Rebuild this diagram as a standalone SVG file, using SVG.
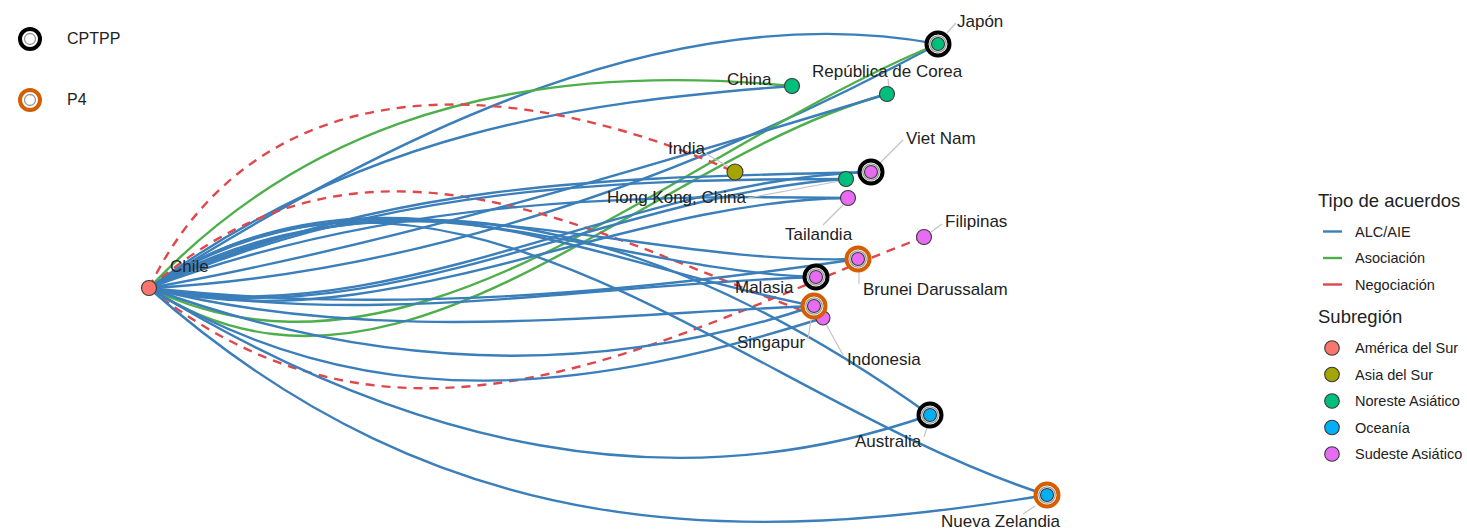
<svg xmlns="http://www.w3.org/2000/svg" width="1467" height="531" viewBox="0 0 1467 531">
<style>
text{font-family:"Liberation Sans",Arial,sans-serif;fill:#222}
.lbl{font-size:17px}
.leg{font-size:14.5px}
.ttl{font-size:18.5px}
.e{fill:none;stroke-width:2.4;stroke-linecap:round}
.alc{stroke:#3A7EBA}
.aso{stroke:#4DAF4A}
.neg{stroke:#E0474A;stroke-dasharray:9 7;stroke-linecap:butt}
.ld{stroke:#C4C4C4;stroke-width:1.2}
.nd{stroke:#3a3a3a;stroke-width:1.1}
.sa{fill:#F8766D}.as{fill:#A3A500}.ne{fill:#00BF7D}.oc{fill:#00B0F6}.se{fill:#E76BF3}
.rc{fill:#fff;stroke:#000;stroke-width:4}
.rp{fill:#fff;stroke:#D55E00;stroke-width:4}
.gr{fill:#fff;stroke:#9a9a9a;stroke-width:1.3}
</style>
<rect width="1467" height="531" fill="#fff"/>
<g id="edges">
<path class="e alc" d="M149,288 C400,130 675,-5 938,44"/>
<path class="e alc" d="M149,288 C412,274 675,185 938,44"/>
<path class="e aso" d="M149,288 C412,415 675,151 938,44"/>
<path class="e aso" d="M149,288 C395,448 641,162 887,94"/>
<path class="e alc" d="M149,288 C395,244 641,169 887,94"/>
<path class="e aso" d="M149,288 C280,150 470,55 792,86"/>
<path class="e alc" d="M149,288 C363,132 577,102 792,86"/>
<path class="e neg" d="M149,288 C250,80 480,60 735,172"/>
<path class="e neg" d="M149,288 C407,493 666,336 924,237"/>
<path class="e neg" d="M149,288 C374,94 598,239 823,318"/>
<path class="e alc" d="M149,288 C409,153 670,230 930,415"/>
<path class="e alc" d="M149,288 C409,447 670,506 930,415"/>
<path class="e alc" d="M149,288 C448,88 748,400 1047,495"/>
<path class="e alc" d="M149,288 C448,552 748,544 1047,495"/>
<path class="e alc" d="M149,288 C385,152 622,267 858,259"/>
<path class="e alc" d="M149,288 C385,314 622,294 858,259"/>
<path class="e alc" d="M149,288 C371,145 594,270 816,277"/>
<path class="e alc" d="M149,288 C371,329 594,284 816,277"/>
<path class="e alc" d="M149,288 C371,141 594,264 814,306"/>
<path class="e alc" d="M149,288 C371,345 594,315 814,306"/>
<path class="e alc" d="M149,288 C371,369 594,380 814,306"/>
<path class="e alc" d="M149,288 C374,424 598,389 823,318"/>
<path class="e alc" d="M149,288 C390,177 630,178 871,172"/>
<path class="e alc" d="M149,288 C390,335 630,178 871,172"/>
<path class="e alc" d="M149,288 C381,187 614,179 846,179"/>
<path class="e alc" d="M149,288 C381,337 614,194 846,179"/>
<path class="e alc" d="M149,288 C382,201 615,194 848,198"/>
<path class="e alc" d="M149,288 C382,344 615,201 848,198"/>
</g>
<g id="leaders">
<line class="ld" x1="947" y1="33" x2="956" y2="23"/>
<line class="ld" x1="888" y1="79" x2="889" y2="87"/>
<line class="ld" x1="703" y1="152" x2="729" y2="167"/>
<line class="ld" x1="880" y1="163" x2="903" y2="140"/>
<line class="ld" x1="748" y1="198" x2="840" y2="181"/>
<line class="ld" x1="823" y1="225" x2="843" y2="205"/>
<line class="ld" x1="931" y1="232" x2="942" y2="224"/>
<line class="ld" x1="859" y1="271" x2="859" y2="284"/>
<line class="ld" x1="812" y1="314" x2="808" y2="339"/>
<line class="ld" x1="826" y1="324" x2="843" y2="355"/>
<line class="ld" x1="927" y1="428" x2="924" y2="437"/>
<line class="ld" x1="1035" y1="506" x2="1023" y2="514"/>
</g>
<g id="node-indonesia"><circle class="nd se" cx="823" cy="318" r="7"/><text class="lbl" x="847" y="365">Indonesia</text></g>
<g id="node-chile"><circle class="nd sa" cx="149" cy="288" r="7.5"/><text class="lbl" x="170" y="272">Chile</text></g>
<g id="node-japon"><circle class="rc" cx="938" cy="44" r="11.5"/><circle class="gr" cx="938" cy="44" r="8.2"/><circle class="nd ne" cx="938" cy="44" r="6.5"/><text class="lbl" x="957" y="27">Japón</text></g>
<g id="node-china"><circle class="nd ne" cx="792" cy="86" r="7.5"/><text class="lbl" x="727" y="85">China</text></g>
<g id="node-corea"><circle class="nd ne" cx="887" cy="94" r="7.5"/><text class="lbl" x="812" y="77">República de Corea</text></g>
<g id="node-india"><circle class="nd as" cx="735" cy="172" r="8"/><text class="lbl" x="668" y="154">India</text></g>
<g id="node-hongkong"><circle class="nd ne" cx="846" cy="179" r="7.5"/><text class="lbl" x="607" y="203">Hong Kong, China</text></g>
<g id="node-vietnam"><circle class="rc" cx="871" cy="172" r="11.5"/><circle class="gr" cx="871" cy="172" r="8.2"/><circle class="nd se" cx="871" cy="172" r="6.5"/><text class="lbl" x="906" y="144">Viet Nam</text></g>
<g id="node-tailandia"><circle class="nd se" cx="848" cy="198" r="7.5"/><text class="lbl" x="785" y="240">Tailandia</text></g>
<g id="node-filipinas"><circle class="nd se" cx="924" cy="237" r="7.5"/><text class="lbl" x="945" y="227">Filipinas</text></g>
<g id="node-brunei"><circle class="rp" cx="858" cy="259" r="11.5"/><circle class="gr" cx="858" cy="259" r="8.2"/><circle class="nd se" cx="858" cy="259" r="6.5"/><text class="lbl" x="863" y="295">Brunei Darussalam</text></g>
<g id="node-malasia"><circle class="rc" cx="816" cy="277" r="11.5"/><circle class="gr" cx="816" cy="277" r="8.2"/><circle class="nd se" cx="816" cy="277" r="6.5"/><text class="lbl" x="735" y="293">Malasia</text></g>
<g id="node-singapur"><circle class="rp" cx="814" cy="306" r="11.5"/><circle class="gr" cx="814" cy="306" r="8.2"/><circle class="nd se" cx="814" cy="306" r="6.5"/><text class="lbl" x="737" y="348">Singapur</text></g>
<g id="node-australia"><circle class="rc" cx="930" cy="415" r="11.5"/><circle class="gr" cx="930" cy="415" r="8.2"/><circle class="nd oc" cx="930" cy="415" r="6.5"/><text class="lbl" x="855" y="447">Australia</text></g>
<g id="node-nuevazelandia"><circle class="rp" cx="1047" cy="495" r="11.5"/><circle class="gr" cx="1047" cy="495" r="8.2"/><circle class="nd oc" cx="1047" cy="495" r="6.5"/><text class="lbl" x="941" y="527">Nueva Zelandia</text></g>
<g id="legend-rings">
<circle class="rc" cx="30" cy="39" r="10"/><circle class="gr" cx="30" cy="39" r="5.5"/>
<text x="67" y="44" style="font-size:16px">CPTPP</text>
<circle class="rp" cx="30" cy="100" r="10"/><circle class="gr" cx="30" cy="100" r="5.5"/>
<text x="67" y="105" style="font-size:16px">P4</text>
</g>
<g id="legend-tipo">
<text class="ttl" x="1318" y="207">Tipo de acuerdos</text>
<line x1="1323" y1="231.5" x2="1342" y2="231.5" stroke="#3A7EBA" stroke-width="2.4"/>
<text class="leg" x="1355" y="236.5">ALC/AIE</text>
<line x1="1323" y1="258" x2="1342" y2="258" stroke="#4DAF4A" stroke-width="2.4"/>
<text class="leg" x="1355" y="263">Asociación</text>
<line x1="1323" y1="284.5" x2="1342" y2="284.5" stroke="#E0474A" stroke-width="2.4"/>
<text class="leg" x="1355" y="289.5">Negociación</text>
</g>
<g id="legend-subregion">
<text class="ttl" x="1318" y="323">Subregión</text>
<circle class="nd sa" cx="1332" cy="348" r="7.3"/><text class="leg" x="1355" y="353">América del Sur</text>
<circle class="nd as" cx="1332" cy="374.5" r="7.3"/><text class="leg" x="1355" y="379.5">Asia del Sur</text>
<circle class="nd ne" cx="1332" cy="401" r="7.3"/><text class="leg" x="1355" y="406">Noreste Asiático</text>
<circle class="nd oc" cx="1332" cy="427.5" r="7.3"/><text class="leg" x="1355" y="432.5">Oceanía</text>
<circle class="nd se" cx="1332" cy="454" r="7.3"/><text class="leg" x="1355" y="459">Sudeste Asiático</text>
</g>
</svg>
